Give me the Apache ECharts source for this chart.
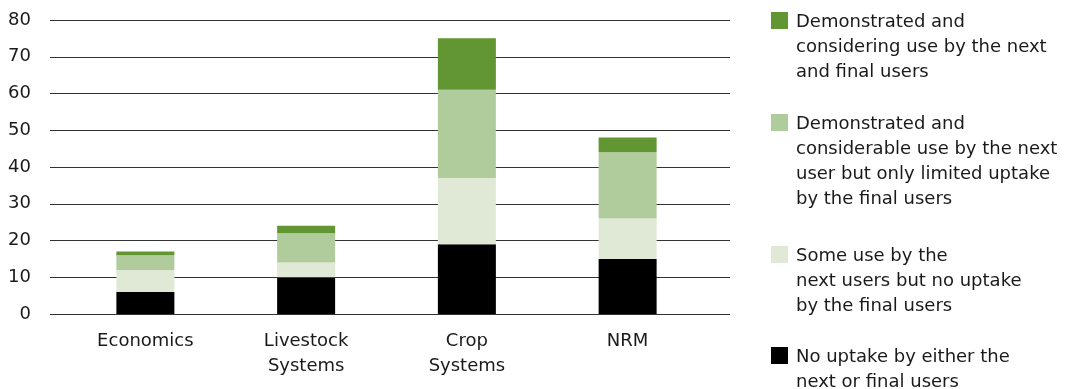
<!DOCTYPE html>
<html>
<head>
<meta charset="utf-8">
<script src="https://cdn.jsdelivr.net/npm/echarts@6/dist/echarts.min.js"></script>
<style>
  html, body { margin: 0; padding: 0; background: #fff; }
  #chart { width: 1079px; height: 389px; }
</style>
</head>
<body>
<div id="chart"></div>
<script>
// Research areas along the x axis
const categories = ['Economics', 'Livestock\nSystems', 'Crop\nSystems', 'NRM'];

// Stacked counts, bottom to top
const noUptake = [6, 10, 19, 15];
const someUse = [6, 4, 18, 11];
const considerableUse = [4, 8, 24, 18];
const consideringUse = [1, 2, 14, 4];

// Series labels
const nameConsidering = 'Demonstrated and\nconsidering use by the next\nand final users';
const nameConsiderable = 'Demonstrated and\nconsiderable use by the next\nuser but only limited uptake\nby the final users';
const nameSome = 'Some use by the\nnext users but no uptake\nby the final users';
const nameNone = 'No uptake by either the\nnext or final users';

const yTicks = { min: 0, max: 80, interval: 10 };

const FONT = '"DejaVu Sans", "Liberation Sans", Arial, sans-serif';
const TEXT = '#1a1a1a';
const FONT_SIZE = 18;

const seriesDefs = [
  { name: nameNone, data: noUptake, color: '#000000' },
  { name: nameSome, data: someUse, color: '#dfe9d6' },
  { name: nameConsiderable, data: considerableUse, color: '#b0cc9c' },
  { name: nameConsidering, data: consideringUse, color: '#619632' }
];

// Key on the right, listed top to bottom as the stack reads top to bottom
const keyTops = [12, 114, 246, 347];
const keyGraphics = [];
seriesDefs.slice().reverse().forEach((s, i) => {
  keyGraphics.push({
    type: 'rect',
    left: 771,
    top: keyTops[i],
    shape: { width: 17, height: 17 },
    style: { fill: s.color },
    silent: true
  });
  keyGraphics.push({
    type: 'text',
    left: 796,
    top: keyTops[i] - 2,
    style: {
      text: s.name,
      font: FONT_SIZE + 'px ' + FONT,
      lineHeight: 25,
      fill: TEXT
    },
    silent: true
  });
});

const chart = echarts.init(document.getElementById('chart'), null, { renderer: 'canvas' });

chart.setOption({
  animation: false,
  backgroundColor: '#fff',
  grid: [
    { left: 50, right: 349, top: 20, bottom: 75 },
    { left: 65, width: 643, top: 20, bottom: 75 }
  ],
  graphic: keyGraphics,
  xAxis: [
    { gridIndex: 0, type: 'value', min: 0, max: 1, show: false },
    {
      gridIndex: 1,
      type: 'category',
      data: categories,
      axisLine: { show: false },
      axisTick: { show: false },
      axisLabel: {
        fontFamily: FONT,
        fontSize: FONT_SIZE,
        lineHeight: 25,
        color: TEXT,
        margin: 15
      }
    }
  ],
  yAxis: [
    {
      gridIndex: 0,
      type: 'value',
      min: yTicks.min,
      max: yTicks.max,
      interval: yTicks.interval,
      axisLine: { show: false },
      axisTick: { show: false },
      splitLine: { lineStyle: { color: '#333333', width: 1 } },
      axisLabel: {
        fontFamily: FONT,
        fontSize: FONT_SIZE,
        color: TEXT,
        margin: 19
      }
    },
    {
      gridIndex: 1,
      type: 'value',
      min: yTicks.min,
      max: yTicks.max,
      interval: yTicks.interval,
      show: false,
      splitLine: { show: false }
    }
  ],
  series: seriesDefs.map(s => ({
    type: 'bar',
    name: s.name,
    data: s.data,
    stack: 'uptake',
    xAxisIndex: 1,
    yAxisIndex: 1,
    barWidth: 58,
    itemStyle: { color: s.color },
    emphasis: { disabled: true }
  }))
});
</script>
</body>
</html>
